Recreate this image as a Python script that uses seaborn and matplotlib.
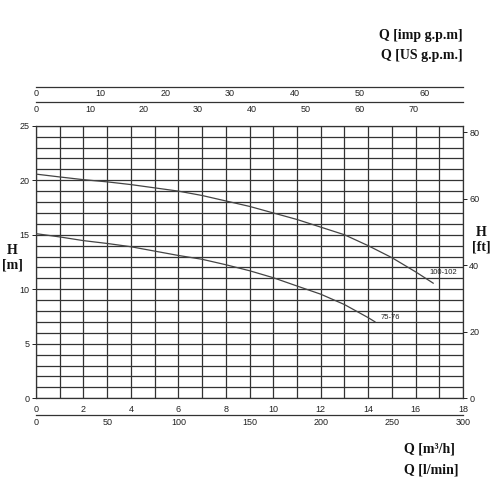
import matplotlib
matplotlib.use("Agg")
from matplotlib import pyplot as plt
import seaborn as sns
import pandas as pd

# pump curves (Q in m3/h, H in m)
q_100 = [0, 1, 2, 3, 4, 5, 6, 7, 8, 9, 10, 11, 12, 13, 14, 15, 16, 16.75]
h_100 = [20.56, 20.3, 20.05, 19.85, 19.6, 19.3, 19.0, 18.6, 18.1, 17.6, 17.0,
         16.4, 15.7, 15.0, 14.0, 12.9, 11.6, 10.55]
q_75 = [0, 1, 2, 3, 4, 5, 6, 7, 8, 9, 10, 11, 12, 13, 14, 14.3]
h_75 = [15.1, 14.8, 14.46, 14.2, 13.9, 13.5, 13.1, 12.75, 12.25, 11.7, 11.06,
        10.3, 9.55, 8.6, 7.4, 7.0]
curve_names = ["100-102", "75-76"]
label_pos = [(17.16, 11.5), (14.92, 7.37)]

q_max = 18
h_max = 25
m_ticks = [0, 2, 4, 6, 8, 10, 12, 14, 16, 18]
lmin_ticks = [0, 50, 100, 150, 200, 250, 300]
us_ticks = [0, 10, 20, 30, 40, 50, 60, 70]
imp_ticks = [0, 10, 20, 30, 40, 50, 60]
hm_ticks = [0, 5, 10, 15, 20, 25]
ft_ticks = [0, 20, 40, 60, 80]

M_TO_FT = 3.28084
TO_LMIN = 1000 / 60
TO_US = 1000 / 3.785411784 / 60
TO_IMP = 1000 / 4.54609 / 60

sns.set_style("white")
plt.rcParams['font.family'] = ['Liberation Sans', 'DejaVu Sans']

fig = plt.figure(figsize=(5, 5), dpi=100)
L, R, B, T = 36 / 500, 463 / 500, 1 - 398.3 / 500, 1 - 125.7 / 500
ax = fig.add_axes([L, B, R - L, T - B])

df = pd.concat([
    pd.DataFrame({"Q": q_100, "H": h_100, "curve": curve_names[0]}),
    pd.DataFrame({"Q": q_75, "H": h_75, "curve": curve_names[1]}),
])
sns.lineplot(data=df, x="Q", y="H", units="curve", estimator=None, sort=False,
             color="#444444", linewidth=0.9, ax=ax, zorder=3)
for name, (x, y) in zip(curve_names, label_pos):
    ax.text(x, y, name, fontsize=5.5, ha="center", va="center", color="#222222", zorder=4)

ax.set_xlim(0, q_max)
ax.set_ylim(0, h_max)
ax.set_xticks(range(0, q_max + 1), minor=True)
ax.set_yticks(range(0, h_max + 1), minor=True)
ax.set_xticks(m_ticks)
ax.set_yticks(hm_ticks)
ax.grid(which="both", color="#333333", linewidth=0.9)
ax.tick_params(which="minor", length=0)
ax.tick_params(which="major", direction="out", length=3, width=0.7,
               labelsize=6.5, pad=1.5, colors="#222222")
ax.set_xlabel("")
ax.set_ylabel("")
for s in ax.spines.values():
    s.set_color("#333333")
    s.set_linewidth(0.9)

# feet axis on the right
ax_ft = ax.twinx()
ax_ft.set_ylim(0, h_max * M_TO_FT)
ax_ft.set_yticks(ft_ticks)
ax_ft.tick_params(direction="out", length=3, width=0.7, labelsize=6.5, pad=1.5,
                  colors="#222222")
ax_ft.grid(False)
for s in ax_ft.spines.values():
    s.set_visible(False)


def extra_axis(ypix, factor, ticks):
    a = fig.add_axes([L, 1 - ypix / 500, R - L, 0.0001])
    a.set_xlim(0, q_max * factor)
    a.set_xticks(ticks)
    a.set_yticks([])
    a.patch.set_visible(False)
    for k in ["top", "left", "right"]:
        a.spines[k].set_visible(False)
    a.spines["bottom"].set_color("#333333")
    a.spines["bottom"].set_linewidth(0.9)
    a.tick_params(axis="x", direction="in", length=3, width=0.7, labelsize=6.5,
                  pad=2, colors="#222222")
    return a


extra_axis(415, TO_LMIN, lmin_ticks)
extra_axis(102.3, TO_US, us_ticks)
extra_axis(86.7, TO_IMP, imp_ticks)

serif = dict(family="Liberation Serif", fontsize=10, fontweight="bold", color="#111111")
fig.text(463 / 500, 1 - 35 / 500, "Q [imp g.p.m]", ha="right", va="center", **serif)
fig.text(463 / 500, 1 - 56 / 500, "Q [US g.p.m.]", ha="right", va="center", **serif)
fig.text(404 / 500, 1 - 449 / 500, "Q [m³/h]", ha="left", va="center", **serif)
fig.text(404 / 500, 1 - 470 / 500, "Q [l/min]", ha="left", va="center", **serif)
fig.text(12 / 500, 1 - 258 / 500, "H\n[m]", ha="center", va="center",
         linespacing=1.1, **serif)
fig.text(481 / 500, 1 - 240 / 500, "H\n[ft]", ha="center", va="center",
         linespacing=1.1, **serif)

fig.savefig("out.png", dpi=100, facecolor="white")
